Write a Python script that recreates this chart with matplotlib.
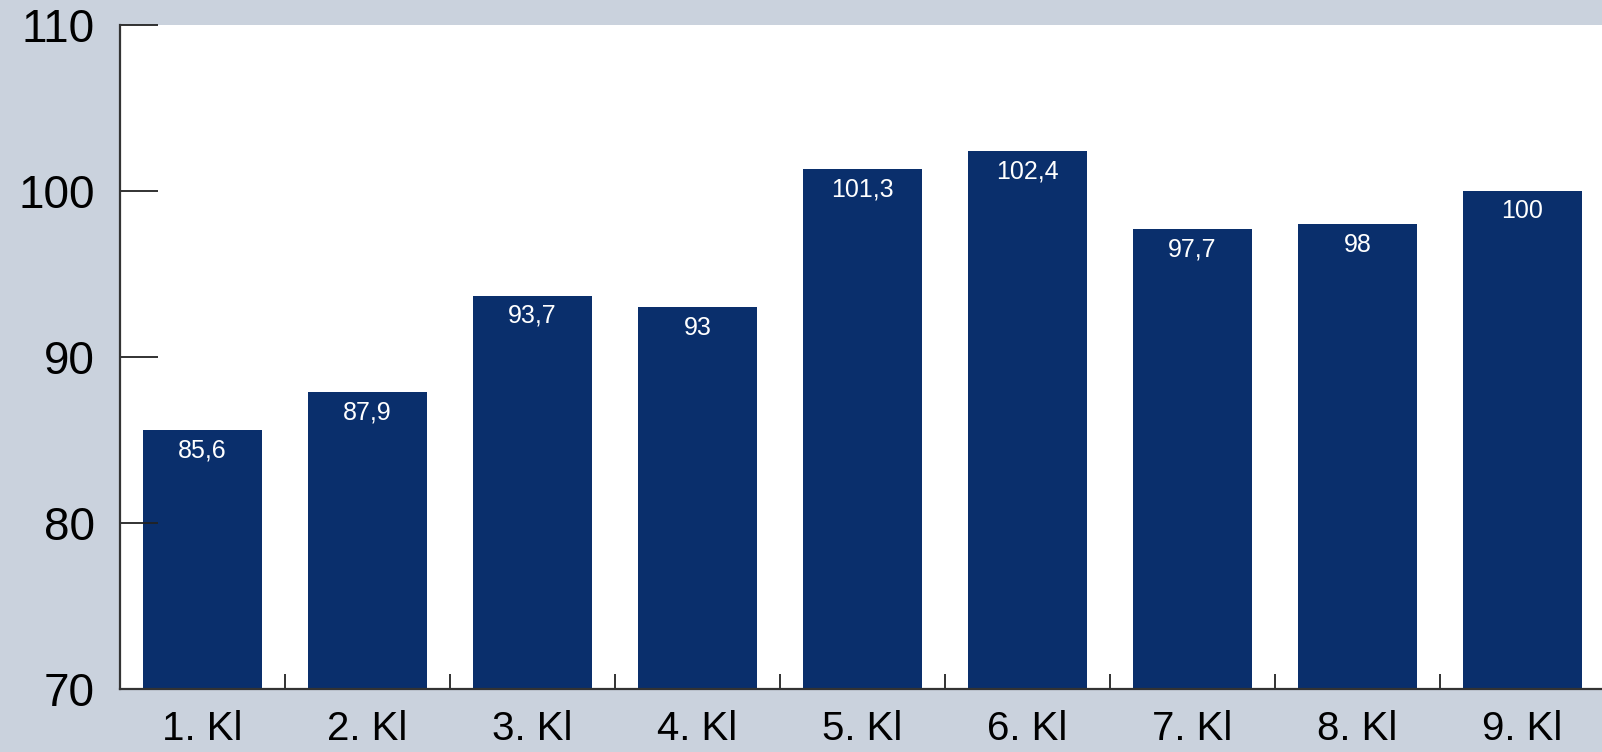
import matplotlib
matplotlib.use("Agg")
import matplotlib.pyplot as plt
import numpy as np

classes = ["1. Kl", "2. Kl", "3. Kl", "4. Kl", "5. Kl", "6. Kl", "7. Kl", "8. Kl", "9. Kl"]
values = [85.6, 87.9, 93.7, 93.0, 101.3, 102.4, 97.7, 98.0, 100.0]
yticks = [70, 80, 90, 100, 110]

bg = "#cad2dd"
navy = "#0a2f6c"

plt.rcParams["font.family"] = ["Liberation Sans", "DejaVu Sans"]

fig = plt.figure(figsize=(16.02, 7.52), dpi=100, facecolor=bg)
ax = fig.add_axes([0.0749, 0.0838, 0.927, 0.8830])
ax.set_facecolor("white")

x = np.arange(len(classes))
bars = ax.bar(x, values, width=0.72, color=navy, bottom=0)

# value labels inside the top of each bar
for b, v in zip(bars, values):
    txt = f"{v:g}".replace(".", ",")
    ax.annotate(txt, (b.get_x() + b.get_width() / 2, v),
                xytext=(0, -6), textcoords="offset points",
                ha="center", va="top", color="white", fontsize=18)

ax.set_xlim(-0.5, len(classes) - 0.5)
ax.set_ylim(70, 110)
ax.set_yticks(yticks)
ax.set_yticklabels([str(t) for t in yticks], fontsize=33)
ax.tick_params(axis="y", direction="in", length=27, width=1.3, color="#222222", pad=18)

ax.set_xticks(x)
ax.set_xticklabels(classes, fontsize=29)
ax.tick_params(axis="x", which="major", length=0, pad=15)
ax.set_xticks(x[:-1] + 0.5, minor=True)
ax.tick_params(axis="x", which="minor", direction="in", length=11, width=1.3, color="#222222")

for s in ["top", "right"]:
    ax.spines[s].set_visible(False)
for s in ["left", "bottom"]:
    ax.spines[s].set_color("#333333")
    ax.spines[s].set_linewidth(1.6)

fig.savefig("out.png", dpi=100, facecolor=bg)
